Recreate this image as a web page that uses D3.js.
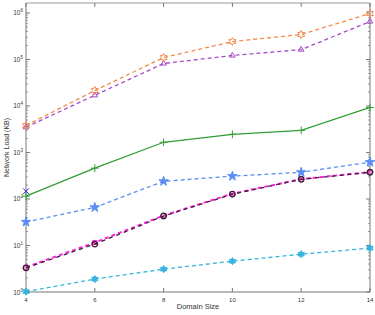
<!DOCTYPE html>
<html>
<head>
<meta charset="utf-8">
<script src="https://cdn.jsdelivr.net/npm/d3@7"></script>
<style>
  body { margin: 0; background: #fff; }
  text { font-family: "Liberation Sans", Arial, sans-serif; fill: #333; }
</style>
</head>
<body>
<div id="chart"></div>
<script>
// data
var domainSizes = [4, 6, 8, 10, 12, 14];
var xTicks = [4, 6, 8, 10, 12, 14];
var yDecades = [0, 1, 2, 3, 4, 5, 6];

var orangeLoad = [3800, 21500, 110000, 243000, 345000, 975000];
var purpleLoad = [3500, 17000, 82000, 122000, 163000, 655000];
var greenLoad = [115, 460, 1660, 2460, 3000, 9300];
var blueLoad = [147];
var lightBlueLoad = [32, 66, 240, 310, 375, 620];
var magentaLoad = [3.4, 11.6, 44, 130, 268, 380];
var blackLoad = [3.3, 10.7, 43, 127, 265, 375];
var redLoad = [1.02, 1.9, 3.1, 4.6, 6.5, 8.8];
var cyanLoad = [1.02, 1.9, 3.1, 4.6, 6.5, 8.8];

// area space
var width = 375, height = 315;
var plot = {left: 26, right: 370, top: 3, bottom: 292};

var svg = d3.select("#chart")
  .append("svg")
  .attr("width", width)
  .attr("height", height);

var x = d3.scaleLinear()
  .domain([4, 14])
  .range([plot.left, plot.right]);

var y = d3.scaleLog()
  .domain([1, Math.pow(10, 6.215)])
  .range([plot.bottom, plot.top]);

// hexagram marker
function hexagram(r) {
  var pts = [];
  for (var i = 0; i < 12; i++) {
    var a = Math.PI / 6 * i - Math.PI / 2;
    var rr = i % 2 === 0 ? r : r * 0.55;
    pts.push([rr * Math.cos(a), rr * Math.sin(a)]);
  }
  return "M" + pts.join("L") + "Z";
}

// axes frame
var axisColor = "#777";
svg.append("line")
  .attr("x1", plot.left).attr("x2", plot.right)
  .attr("y1", plot.top).attr("y2", plot.top)
  .attr("stroke", "#bbb").attr("stroke-width", 1.5);
svg.append("line")
  .attr("x1", plot.left).attr("x2", plot.right)
  .attr("y1", plot.bottom).attr("y2", plot.bottom)
  .attr("stroke", axisColor).attr("stroke-width", 1);
svg.append("line")
  .attr("x1", plot.left).attr("x2", plot.left)
  .attr("y1", plot.top).attr("y2", plot.bottom)
  .attr("stroke", axisColor).attr("stroke-width", 1);
svg.append("line")
  .attr("x1", plot.right).attr("x2", plot.right)
  .attr("y1", plot.top).attr("y2", plot.bottom)
  .attr("stroke", axisColor).attr("stroke-width", 1);

// x ticks (inward, mirrored)
var xt = svg.append("g");
xTicks.forEach(function(t) {
  xt.append("line")
    .attr("x1", x(t)).attr("x2", x(t))
    .attr("y1", plot.bottom).attr("y2", plot.bottom - 4)
    .attr("stroke", axisColor);
  xt.append("line")
    .attr("x1", x(t)).attr("x2", x(t))
    .attr("y1", plot.top).attr("y2", plot.top + 4)
    .attr("stroke", axisColor);
  xt.append("text")
    .attr("x", x(t)).attr("y", plot.bottom + 10)
    .attr("text-anchor", "middle")
    .attr("font-size", 6)
    .text(t);
});

// y ticks (major + minor, inward, mirrored)
var yt = svg.append("g");
yDecades.forEach(function(e) {
  var v = Math.pow(10, e);
  [plot.left, plot.right].forEach(function(px, k) {
    var dir = k === 0 ? 1 : -1;
    yt.append("line")
      .attr("x1", px).attr("x2", px + dir * 4)
      .attr("y1", y(v)).attr("y2", y(v))
      .attr("stroke", axisColor);
    for (var m = 2; m <= 9; m++) {
      var mv = v * m;
      if (mv > y.domain()[1]) continue;
      yt.append("line")
        .attr("x1", px).attr("x2", px + dir * 2)
        .attr("y1", y(mv)).attr("y2", y(mv))
        .attr("stroke", axisColor)
        .attr("stroke-width", 0.7);
    }
  });
  var lbl = yt.append("text")
    .attr("x", plot.left - 3).attr("y", y(v) + 2.5)
    .attr("text-anchor", "end")
    .attr("font-size", 6.5);
  lbl.append("tspan").text("10");
  lbl.append("tspan").attr("dy", -3).attr("font-size", 4.5).text(e);
});

// axis titles
svg.append("text")
  .attr("x", (plot.left + plot.right) / 2)
  .attr("y", 309)
  .attr("text-anchor", "middle")
  .attr("font-size", 7.5)
  .text("Domain Size");

svg.append("text")
  .attr("transform", "translate(9," + ((plot.top + plot.bottom) / 2) + ") rotate(-90)")
  .attr("text-anchor", "middle")
  .attr("font-size", 7)
  .text("Network Load (KB)");

// series
var series = [
  {vals: redLoad, color: "#e8335a", dash: null, width: 0, marker: "asterisk", fill: "none"},
  {vals: cyanLoad, color: "#33b5e0", dash: "4,3", width: 1.3, marker: "hexagram", fill: "#33b5e0"},
  {vals: magentaLoad, color: "#ff22dd", dash: "4,3", width: 2, marker: "square", fill: "none"},
  {vals: blackLoad, color: "#3a1f30", dash: "4,4", width: 1.3, marker: "circle", fill: "none"},
  {vals: lightBlueLoad, color: "#5b8ef5", dash: "4,3", width: 1.3, marker: "star", fill: "#5b8ef5"},
  {vals: greenLoad, color: "#2f9e34", dash: null, width: 1.3, marker: "plus", fill: "none"},
  {vals: blueLoad, color: "#2424e0", dash: null, width: 1.3, marker: "times", fill: "none"},
  {vals: purpleLoad, color: "#a54bc9", dash: "4,3", width: 1.3, marker: "triangle", fill: "none"},
  {vals: orangeLoad, color: "#f58a4b", dash: "4,3", width: 1.3, marker: "hexagramOpen", fill: "none"}
];

var line = d3.line()
  .x(function(d) { return x(d.x); })
  .y(function(d) { return y(d.v); });

var symbolTypes = {
  asterisk: d3.symbolAsterisk,
  square: d3.symbolSquare2,
  circle: d3.symbolCircle,
  star: d3.symbolStar,
  plus: d3.symbolPlus,
  times: d3.symbolTimes,
  triangle: d3.symbolTriangle2
};

series.forEach(function(s) {
  var pts = s.vals.map(function(v, i) { return {x: domainSizes[i], v: v}; });
  var g = svg.append("g");
  if (s.width > 0) {
    g.append("path")
      .datum(pts)
      .attr("fill", "none")
      .attr("stroke", s.color)
      .attr("stroke-width", s.width)
      .attr("stroke-dasharray", s.dash)
      .attr("d", line);
  }
  g.selectAll("path.mk")
    .data(pts)
    .enter()
    .append("path")
    .attr("class", "mk")
    .attr("transform", function(d) { return "translate(" + x(d.x) + "," + y(d.v) + ")"; })
    .attr("d", function() {
      if (s.marker === "hexagram") return hexagram(3.6);
      if (s.marker === "hexagramOpen") return hexagram(4);
      var size = s.marker === "circle" ? 24 : s.marker === "star" ? 28 : 22;
      return d3.symbol().type(symbolTypes[s.marker]).size(size)();
    })
    .attr("fill", s.fill)
    .attr("stroke", s.color)
    .attr("stroke-width", s.marker === "circle" ? 1.4 : 1);
});
</script>
</body>
</html>
